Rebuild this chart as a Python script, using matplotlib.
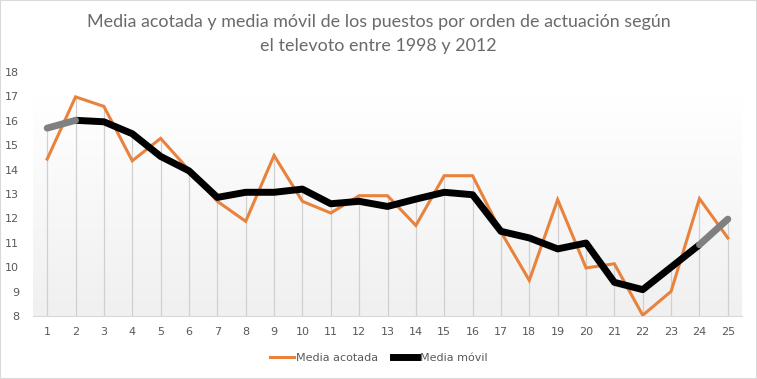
import numpy as np
import matplotlib.pyplot as plt
from matplotlib.lines import Line2D
from matplotlib.patches import Rectangle

# Orden de actuacion
orden = list(range(1, 26))

# Media acotada del puesto segun televoto
media_acotada = [14.43, 16.98, 16.59, 14.36, 15.28, 13.98, 12.70, 11.88, 14.58, 12.70,
                 12.22, 12.93, 12.93, 11.71, 13.75, 13.75, 11.45, 9.46, 12.77, 9.97,
                 10.14, 8.03, 9.01, 12.81, 11.20]

# Media movil (los extremos en gris)
media_movil = [15.70, 16.02, 15.96, 15.47, 14.54, 13.95, 12.86, 13.07, 13.07, 13.20,
               12.60, 12.70, 12.49, 12.79, 13.07, 12.97, 11.47, 11.20, 10.75, 10.99,
               9.38, 9.08, 10.00, 10.92, 11.97]

titulo = "Media acotada y media móvil de los puestos por orden de actuación según\nel televoto entre 1998 y 2012"

gris_texto = "#595959"
naranja = "#E8823C"

fig = plt.figure(figsize=(7.57, 3.79), dpi=100)
ax = fig.add_axes([33 / 757, 1 - 316 / 379, (742 - 33) / 757, (316 - 72) / 379])

# fondo degradado del area de trazado
grad = np.linspace(0, 1, 256).reshape(-1, 1)
grad = np.clip((grad - 0.1) / 0.9, 0, 1)
cmap = plt.matplotlib.colors.LinearSegmentedColormap.from_list("bg", ["#ffffff", "#f0f0f0"])
ax.imshow(grad, extent=[0.5, 25.5, 8, 18], origin="upper", aspect="auto", cmap=cmap,
          zorder=0, interpolation="bilinear")

# lineas de caida
tope = np.maximum(media_acotada, media_movil)
ax.vlines(orden, 8, tope, color="#d0d0d0", lw=0.9, zorder=1)

ax.plot(orden, media_acotada, color=naranja, lw=2.2, zorder=3, solid_joinstyle="miter")
ax.plot(orden[1:-1], media_movil[1:-1], color="black", lw=5, zorder=4, solid_capstyle="butt")
ax.plot(orden[:2], media_movil[:2], color="#808080", lw=5, zorder=4, solid_capstyle="round")
ax.plot(orden[-2:], media_movil[-2:], color="#808080", lw=5, zorder=4, solid_capstyle="round")

ax.set_xlim(0.5, 25.5)
ax.set_ylim(8, 18)
ax.set_xticks(orden)
ax.set_yticks(range(8, 19))
ax.tick_params(axis="both", length=0, labelsize=8, labelcolor=gris_texto)
ax.tick_params(axis="x", pad=8)
ax.tick_params(axis="y", pad=10)
for s in ["top", "right", "left"]:
    ax.spines[s].set_visible(False)
ax.spines["bottom"].set_color("#d9d9d9")

fig.text(0.5, 1 - 34 / 379, titulo, ha="center", va="center", fontsize=12.9,
         family="Lato", color="#6a6a6a", linespacing=1.55)

handles = [Line2D([], [], color=naranja, lw=2.2),
           Line2D([], [], color="black", lw=5)]
fig.legend(handles, ["Media acotada", "Media móvil"], loc="center",
           bbox_to_anchor=(0.5, 1 - 358 / 379), ncol=2, frameon=False, fontsize=8,
           handlelength=2.2, handletextpad=0.2, columnspacing=1.3, labelcolor=gris_texto)

fig.patches.append(Rectangle((0, 0), 1, 1, transform=fig.transFigure, fill=False,
                             edgecolor="#d9d9d9", lw=1.5))

fig.savefig("out.png", dpi=100)
